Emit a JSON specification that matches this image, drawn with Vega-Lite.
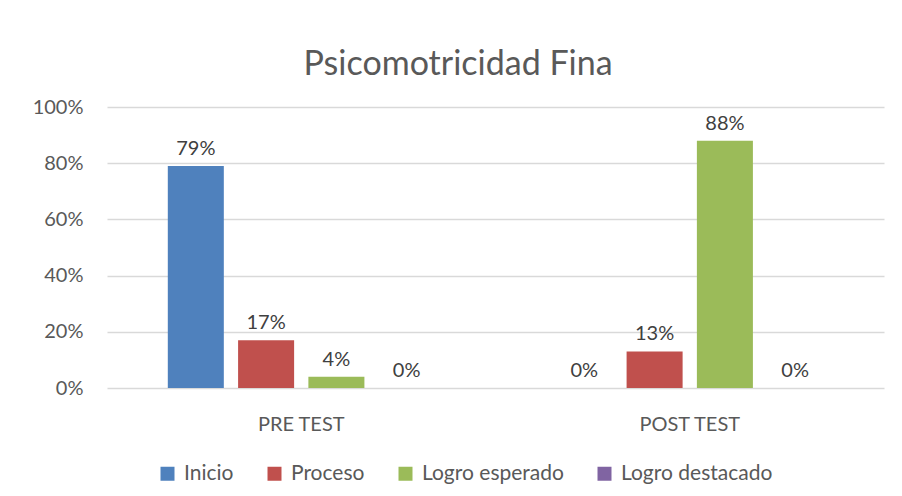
{
  "$schema": "https://vega.github.io/schema/vega-lite/v6.json",
  "autosize": {"type": "none"},
  "width": 777,
  "height": 281,
  "padding": {"left": 107, "top": 107, "right": 18, "bottom": 108},
  "background": "white",
  "title": {
    "text": "Psicomotricidad Fina",
    "frame": "bounds",
    "anchor": "middle",
    "font": "Lato",
    "fontSize": 34,
    "fontWeight": "normal",
    "color": "#595959",
    "offset": 15
  },
  "data": {
    "values": [
      {"test": "PRE TEST", "nivel": "Inicio", "valor": 0.79},
      {"test": "PRE TEST", "nivel": "Proceso", "valor": 0.17},
      {"test": "PRE TEST", "nivel": "Logro esperado", "valor": 0.04},
      {"test": "PRE TEST", "nivel": "Logro destacado", "valor": 0.0},
      {"test": "POST TEST", "nivel": "Inicio", "valor": 0.0},
      {"test": "POST TEST", "nivel": "Proceso", "valor": 0.13},
      {"test": "POST TEST", "nivel": "Logro esperado", "valor": 0.88},
      {"test": "POST TEST", "nivel": "Logro destacado", "valor": 0.0}
    ]
  },
  "encoding": {
    "x": {
      "field": "test",
      "type": "nominal",
      "sort": ["PRE TEST", "POST TEST"],
      "scale": {"paddingInner": 0, "paddingOuter": 0},
      "axis": {
        "title": null,
        "labelAngle": 0,
        "domain": false,
        "ticks": false,
        "tickSize": 0,
        "labelPadding": 26,
        "labelFont": "Lato",
        "labelFontSize": 20,
        "labelColor": "#595959"
      }
    },
    "xOffset": {
      "field": "nivel",
      "type": "nominal",
      "sort": ["Inicio", "Proceso", "Logro esperado", "Logro destacado"],
      "scale": {"paddingInner": 0.203, "paddingOuter": 0.865}
    },
    "y": {
      "field": "valor",
      "type": "quantitative",
      "scale": {"domain": [0, 1]},
      "axis": {
        "title": null,
        "values": [0, 0.2, 0.4, 0.6, 0.8, 1],
        "format": ".0%",
        "domain": false,
        "ticks": false,
        "tickSize": 0,
        "labelPadding": 24,
        "labelFont": "Lato",
        "labelFontSize": 20,
        "labelColor": "#595959",
        "gridColor": "#d9d9d9",
        "gridWidth": 1.3
      }
    }
  },
  "layer": [
    {
      "mark": {"type": "bar"},
      "encoding": {
        "color": {
          "field": "nivel",
          "type": "nominal",
          "sort": ["Inicio", "Proceso", "Logro esperado", "Logro destacado"],
          "scale": {
            "domain": ["Inicio", "Proceso", "Logro esperado", "Logro destacado"],
            "range": ["#4F81BD", "#C0504D", "#9BBB59", "#8064A2"]
          },
          "legend": {
            "title": null,
            "orient": "none",
            "direction": "horizontal",
            "legendX": 50,
            "legendY": 356,
            "symbolType": "square",
            "symbolSize": 196,
            "symbolStrokeWidth": 0,
            "symbolOpacity": 1,
            "labelOffset": 6,
            "columnPadding": 30,
            "labelFont": "Lato",
            "labelFontSize": 21,
            "labelColor": "#595959"
          }
        }
      }
    },
    {
      "mark": {
        "type": "text",
        "baseline": "alphabetic",
        "dy": -11,
        "font": "Lato",
        "fontSize": 20,
        "color": "#404040"
      },
      "encoding": {
        "text": {"field": "valor", "type": "quantitative", "format": ".0%"}
      }
    }
  ],
  "config": {
    "view": {"stroke": null}
  }
}
